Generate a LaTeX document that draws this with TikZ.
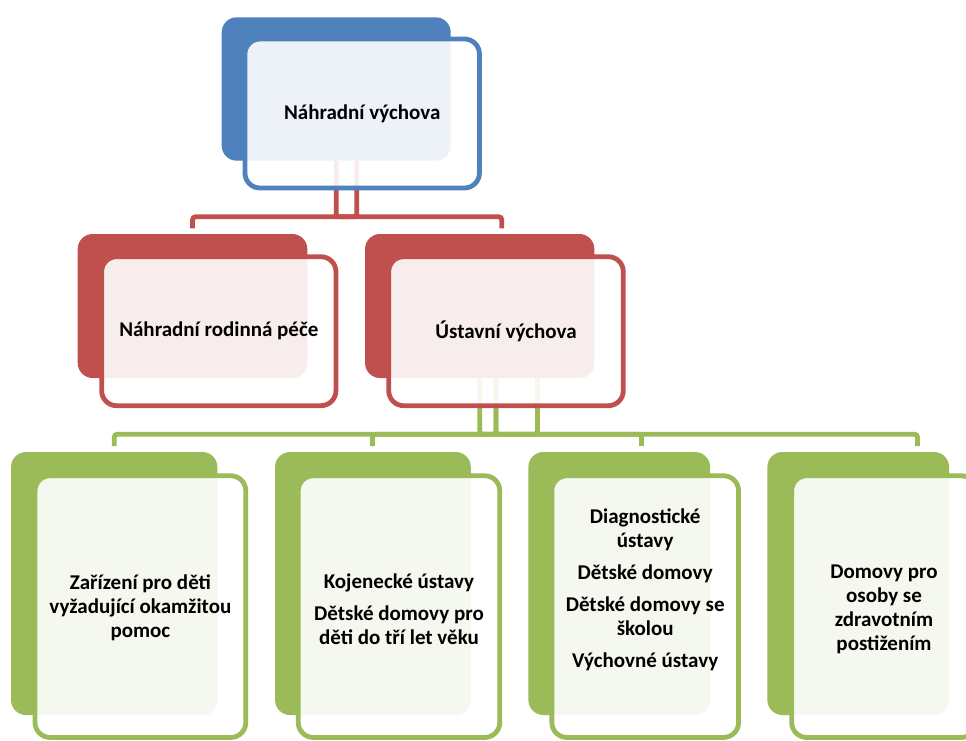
\documentclass[tikz,border=0pt]{standalone}
\usepackage{fontspec}
\setmainfont{Carlito}
\usetikzlibrary{calc}
\definecolor{cblue}{HTML}{4F81BD}
\definecolor{cred}{HTML}{C0504D}
\definecolor{cgreen}{HTML}{9BBB59}
\pgfdeclarelayer{bg}
\pgfsetlayers{bg,main}
\begin{document}
\begin{tikzpicture}[x=1pt,y=-1pt,
  backbox/.style={rectangle, rounded corners=15pt, inner sep=0pt, outer sep=0pt, fill=#1},
  frontbox/.style={rectangle, rounded corners=15pt, inner sep=0pt, outer sep=0pt, draw=#1, line width=4.8pt, fill=white, fill opacity=0.9},
  lbl/.style={font=\fontsize{21}{24}\selectfont\bfseries, align=center, text=black, inner sep=0pt},
  link/.style={line width=4.8pt, draw=#1, rounded corners=3pt}
]
\useasboundingbox (0,0) rectangle (966,740);

% top
\node[backbox=cblue, minimum width=229pt, minimum height=143.4pt] (b0) at (336.2,89) {};
\node[frontbox=cblue, minimum width=234.5pt, minimum height=149pt] (f0) at (362.2,113.5) {};
\node[lbl] (t0) at (f0) {Náhradní výchova};

% red level
\node[backbox=cred, minimum width=229.6pt, minimum height=144pt] (rb1) at (192.5,306) {};
\node[frontbox=cred, minimum width=234.3pt, minimum height=149pt] (rf1) at (218.8,331.2) {};
\node[lbl] (rt1) at (rf1) {Náhradní rodinná péče};

\node[backbox=cred, minimum width=229.3pt, minimum height=144pt] (rb2) at (479.7,306) {};
\node[frontbox=cred, minimum width=234.6pt, minimum height=149pt] (rf2) at (506,331.2) {};
\node[lbl] (rt2) at (rf2) {Ústavní výchova};

% green level
\node[backbox=cgreen, minimum width=206.3pt, minimum height=263pt] (gb1) at (114.2,583.5) {};
\node[frontbox=cgreen, minimum width=210.8pt, minimum height=261.7pt] (gf1) at (140.4,606.6) {};
\node[lbl] (gt1) at (140.4,608) {Zařízení pro děti\\vyžadující okamžitou\\pomoc};

\node[backbox=cgreen, minimum width=195.7pt, minimum height=263pt] (gb2) at (372.9,583.5) {};
\node[frontbox=cgreen, minimum width=201.5pt, minimum height=261.7pt] (gf2) at (399,606.6) {};
\node[lbl] (gt2) at (399,609) {Kojenecké ústavy\\[8pt]Dětské domovy pro\\děti do tří let věku};

\node[backbox=cgreen, minimum width=181.7pt, minimum height=263pt] (gb3) at (619.2,583.5) {};
\node[frontbox=cgreen, minimum width=186.7pt, minimum height=261.7pt] (gf3) at (645.2,606.6) {};
\node[lbl] (gt3) at (645.2,590) {Diagnostické\\ústavy\\[8pt]Dětské domovy\\[8pt]Dětské domovy se\\školou\\[8pt]Výchovné ústavy};

\node[backbox=cgreen, minimum width=181.7pt, minimum height=263pt] (gb4) at (858.2,583.5) {};
\node[frontbox=cgreen, minimum width=184.6pt, minimum height=261.7pt] (gf4) at (884,606.6) {};
\node[lbl] (gt4) at (884,609) {Domovy pro\\osoby se\\zdravotním\\postižením};

% connectors
\coordinate (rbus) at (336.5,216.8);
\coordinate (rd1) at (192.5,228.3);
\coordinate (rd2) at (501.8,228.3);
\coordinate (gbus) at (479.8,434.2);
\coordinate (gd1) at (114.2,446);
\coordinate (gd2) at (372.5,446);
\coordinate (gd3) at (641.5,446);
\coordinate (gd4) at (917.5,446);
\begin{pgfonlayer}{bg}
\fill[white] (0,0) rectangle (966,740);
\draw[link=cred] ([xshift=20.6pt]b0.south) -- ([xshift=20.6pt]b0.south |- rbus) -| (rd1);
\draw[link=cred] (b0.south) -- (b0.south |- rbus) -| (rd2);
\draw[link=cgreen] ([xshift=57.8pt]rb2.south) -- ([xshift=57.8pt]rb2.south |- gbus) -| (gd1);
\draw[link=cgreen] ([xshift=16.3pt]rb2.south) -- ([xshift=16.3pt]rb2.south |- gbus) -| (gd2);
\draw[link=cgreen] ([xshift=16.3pt]rb2.south) -- ([xshift=16.3pt]rb2.south |- gbus) -| (gd3);
\draw[link=cgreen] (rb2.south) -- (rb2.south |- gbus) -| (gd4);
\end{pgfonlayer}
\end{tikzpicture}
\end{document}
